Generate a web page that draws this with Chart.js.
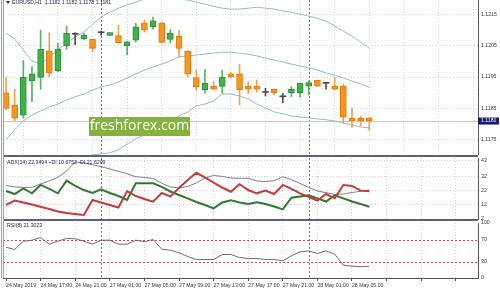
<!DOCTYPE html>
<html>
<head>
<meta charset="utf-8">
<script src="https://cdn.jsdelivr.net/npm/chart.js@4.4.1/dist/chart.umd.min.js"></script>
<style>
  html, body { margin: 0; padding: 0; background: #fff; }
  #wrap { position: relative; width: 500px; height: 292px; overflow: hidden; background: #fff; }
  canvas { position: absolute; left: 0; }
  .sep { position: absolute; left: 3px; width: 475px; height: 2px; background: #5d5f78; }
  .vl { position: absolute; top: 0; width: 1px; height: 278px; background: #a0a0ac; }
</style>
</head>
<body>
<div id="wrap">
  <canvas id="main" width="500" height="155" style="top:0px"></canvas>
  <canvas id="adx" width="500" height="66" style="top:157px"></canvas>
  <canvas id="rsi" width="500" height="72" style="top:220px"></canvas>
  <div class="sep" style="top:155px"></div>
  <div class="sep" style="top:219px"></div>
  <div class="vl" style="left:1px"></div>
  <div class="vl" style="left:3px"></div>
</div>
<script>
// EURUSD H1, 24 May 2019 13:00 .. 28 May 2019 06:00
const timeLabels = ['24 May 2019', '24 May 17:00', '24 May 21:00', '27 May 01:00', '27 May 05:00',
  '27 May 09:00', '27 May 13:00', '27 May 17:00', '27 May 21:00', '28 May 01:00', '28 May 05:00'];
const gridBars = [0, 4, 8, 12, 16, 20, 24, 28, 32, 36, 40, 44, 48, 52];
const separatorBars = [11, 35]; // day separators (27 May 00:00, 28 May 00:00)

const opens = [1.1190, 1.11861, 1.11829, 1.11938, 1.11949, 1.12033, 1.11970, 1.12049, 1.12086, 1.12071,
  1.12070, 1.12091, 1.12082, 1.12082, 1.12049, 1.12067, 1.12122, 1.12110, 1.12122, 1.12070,
  1.12080, 1.12032, 1.11948, 1.11910, 1.11921, 1.11920, 1.11960, 1.11960, 1.11921, 1.11921,
  1.11901, 1.11911, 1.11887, 1.11900, 1.11900, 1.11921, 1.11940, 1.11930, 1.11921, 1.11921,
  1.11819, 1.11819, 1.1182];
const highs = [1.1195, 1.11911, 1.12002, 1.11983, 1.12099, 1.12091, 1.12057, 1.12112, 1.12091, 1.12089,
  1.12071, 1.12096, 1.12092, 1.12115, 1.12064, 1.12121, 1.12131, 1.12141, 1.12123, 1.12101,
  1.12099, 1.12033, 1.11972, 1.11974, 1.11937, 1.11971, 1.11964, 1.11991, 1.11935, 1.11940,
  1.11914, 1.11912, 1.11898, 1.11919, 1.11931, 1.11938, 1.11940, 1.11930, 1.11949, 1.11928,
  1.11851, 1.11826, 1.1182];
const lows = [1.11845, 1.11811, 1.11819, 1.11872, 1.11911, 1.11951, 1.11967, 1.12038, 1.12052, 1.12069,
  1.12030, 1.12083, 1.12081, 1.12058, 1.12020, 1.12061, 1.12093, 1.12102, 1.12059, 1.12058,
  1.12014, 1.11950, 1.11909, 1.11899, 1.11910, 1.11898, 1.11947, 1.11861, 1.11898, 1.11902,
  1.11890, 1.11893, 1.11868, 1.11887, 1.11886, 1.11893, 1.11920, 1.11911, 1.11910, 1.11803,
  1.11790, 1.11794, 1.1178];
const closes = [1.1185, 1.11819, 1.11949, 1.11960, 1.12039, 1.11962, 1.12039, 1.12089, 1.12086, 1.12083,
  1.12041, 1.12091, 1.12091, 1.12059, 1.12062, 1.12110, 1.12099, 1.12129, 1.12060, 1.12090,
  1.12041, 1.11960, 1.11919, 1.11930, 1.11911, 1.11950, 1.11950, 1.11910, 1.11911, 1.11911,
  1.11901, 1.11900, 1.11887, 1.11911, 1.11930, 1.11932, 1.11921, 1.11930, 1.11911, 1.11822,
  1.11810, 1.11810, 1.1181];

const bbUpper = [1.12090, 1.12071, 1.12036, 1.12001, 1.11991, 1.12014, 1.12036, 1.12058, 1.12077, 1.12093,
  1.12118, 1.12141, 1.12156, 1.12169, 1.12179, 1.12188, 1.12198, 1.12204, 1.12207, 1.12204,
  1.12198, 1.12195, 1.12188, 1.12182, 1.12175, 1.12169, 1.12166, 1.12166, 1.12169, 1.12172,
  1.12169, 1.12166, 1.12160, 1.12156, 1.12150, 1.12144, 1.12137, 1.12128, 1.12112, 1.12096,
  1.12080, 1.12061, 1.12042];
const bbMiddle = [1.11750, 1.11782, 1.11810, 1.11829, 1.11842, 1.11855, 1.11864, 1.11877, 1.11887, 1.11896,
  1.11909, 1.11918, 1.11925, 1.11934, 1.11947, 1.11960, 1.11972, 1.11982, 1.11991, 1.12001,
  1.12014, 1.12017, 1.12020, 1.12023, 1.12026, 1.12029, 1.12029, 1.12026, 1.12023, 1.12017,
  1.12010, 1.12004, 1.11998, 1.11991, 1.11985, 1.11979, 1.11972, 1.11963, 1.11956, 1.11947,
  1.11937, 1.11928, 1.11918];
const bbLower = [1.11639, 1.11655, 1.11661, 1.11664, 1.11667, 1.11674, 1.11680, 1.11687, 1.11693, 1.11696,
  1.11702, 1.11706, 1.11709, 1.11718, 1.11737, 1.11753, 1.11766, 1.11779, 1.11794, 1.11810,
  1.11826, 1.11839, 1.11858, 1.11864, 1.11874, 1.11896, 1.11896, 1.11890, 1.11880, 1.11864,
  1.11852, 1.11839, 1.11833, 1.11826, 1.11823, 1.11820, 1.11817, 1.11814, 1.11810, 1.11804,
  1.11798, 1.11791, 1.11788];

const adxMain = [25.6, 24.6, 24.3, 24.3, 26.7, 28.8, 31.4, 35.8, 42.2, 41.5,
  40.3, 38.9, 37.3, 35.6, 33.9, 31.8, 31.3, 30.6, 27.2, 24.6,
  23.9, 24.9, 27.4, 30.9, 32.7, 32.0, 30.9, 30.7, 30.7, 28.8,
  28.4, 29.0, 31.8, 29.8, 27.0, 24.2, 21.7, 20.6, 19.3, 19.6,
  20.7, 21.5, 22.35];
const plusDI = [21.7, 19.6, 23.5, 20.1, 26.0, 23.2, 20.1, 29.0, 25.3, 22.4,
  20.3, 22.9, 20.3, 18.2, 15.4, 27.2, 27.2, 27.2, 24.6, 21.4,
  18.9, 16.5, 14.0, 11.9, 9.5, 13.6, 15.2, 13.6, 12.6, 13.8,
  12.6, 10.8, 8.8, 17.0, 17.9, 18.7, 16.5, 14.3, 18.7, 16.5,
  14.3, 12.6, 10.68];
const minusDI = [11.9, 15.0, 13.6, 12.2, 10.7, 9.1, 7.3, 6.2, 5.5, 4.8,
  15.4, 13.6, 11.9, 10.1, 21.7, 18.2, 16.1, 14.2, 20.3, 17.9,
  23.9, 29.5, 34.6, 31.3, 27.7, 24.2, 21.2, 26.5, 22.4, 20.1,
  22.0, 19.6, 26.0, 23.2, 20.1, 17.5, 14.9, 19.6, 16.6, 26.0,
  25.3, 22.0, 21.62];

const rsiValues = [56.0, 51.8, 66.9, 68.7, 73.6, 61.5, 66.9, 71.8, 71.5, 66.9,
  61.5, 68.7, 68.7, 61.5, 61.5, 68.7, 66.0, 70.0, 52.4, 50.5,
  46.0, 39.1, 33.6, 33.6, 33.6, 42.7, 42.7, 37.3, 35.5, 35.5,
  33.6, 33.6, 31.1, 40.5, 47.5, 49.3, 44.5, 49.3, 43.3, 23.3,
  21.5, 20.5, 21.3];
const rsiLevels = [70, 30];

const priceTicks = [1.1175, 1.1185, 1.1195, 1.1205, 1.1215];
const adxTicks = [2, 12, 22, 32, 43];
const rsiTicks = [0, 30, 70, 100];
const lastPrice = 1.1181;

const fontFam = "'Liberation Sans', Arial, sans-serif";
const smallPx = 5.2;
const tickFont = { family: fontFam, size: smallPx };
const gridColor = '#d2d2dc';
const xMin = -0.35, xMax = 54.57;

function pts(arr) { return arr.map((v, i) => ({ x: i, y: v })); }

function xScale(showLabels) {
  return {
    type: 'linear', min: xMin, max: xMax, offset: false,
    afterBuildTicks: s => { s.ticks = gridBars.map(v => ({ value: v })); },
    afterFit: s => {
      s.height = showLabels ? 14 : (showLabels === false ? 0 : 4);
      s.paddingLeft = 0; s.paddingRight = 0;
    },
    grid: { color: gridColor, drawTicks: !!showLabels, tickLength: 3, tickColor: '#555', tickBorderDash: [] },
    border: { display: !!showLabels, color: '#555', dash: [1, 2] },
    ticks: {
      display: !!showLabels, autoSkip: false, maxRotation: 0, align: 'start', padding: 1,
      color: '#333', font: tickFont,
      callback: v => timeLabels[gridBars.indexOf(v)] || ''
    }
  };
}

function yScale(min, max, ticks, fmt, gridOn) {
  return {
    position: 'right', min: min, max: max,
    afterBuildTicks: s => { s.ticks = ticks.map(v => ({ value: v })); },
    afterFit: s => { s.width = 22; s.paddingTop = 0; s.paddingBottom = 0; },
    grid: { display: gridOn, color: gridColor, drawTicks: false },
    border: { display: true, color: '#555', dash: [1, 2] },
    ticks: { padding: 3, color: '#333', font: tickFont, callback: fmt }
  };
}

function drawSeparators(chart) {
  const { ctx, chartArea: a, scales: { x } } = chart;
  ctx.save();
  ctx.strokeStyle = '#6c6c7a';
  ctx.lineWidth = 1;
  ctx.setLineDash([2, 2]);
  separatorBars.forEach(b => {
    const px = Math.round(x.getPixelForValue(b)) + 0.5;
    ctx.beginPath();
    ctx.moveTo(px, a.top);
    ctx.lineTo(px, a.bottom);
    ctx.stroke();
  });
  ctx.restore();
}

function label(ctx, text, x, y) {
  ctx.save();
  ctx.font = smallPx + 'px ' + fontFam;
  ctx.fillStyle = '#1f1f3f';
  ctx.textBaseline = 'middle';
  ctx.fillText(text, x, y);
  ctx.restore();
}

const common = {
  responsive: false,
  animation: false,
  devicePixelRatio: 1,
  events: [],
  plugins: { legend: { display: false }, tooltip: { enabled: false } }
};

// candle colours
function kind(i) { return closes[i] > opens[i] ? 'up' : (closes[i] < opens[i] ? 'down' : 'doji'); }
const bodyFill = { up: '#3cb44a', down: '#f8961f', doji: '#4a4a52' };
const bodyEdge = { up: '#2b8f38', down: '#dc7a0c', doji: '#4a4a52' };
const wickCol = { up: '#5fae68', down: '#eba257', doji: '#4a4a52' };

// ---- main price panel ----
new Chart(document.getElementById('main'), {
  type: 'bar',
  data: {
    datasets: [
      {
        type: 'bar', order: 0, grouped: false, barThickness: 6, minBarLength: 1,
        data: opens.map((o, i) => ({ x: i, y: [o, closes[i]] })),
        backgroundColor: c => bodyFill[kind(c.dataIndex)],
        borderColor: c => bodyEdge[kind(c.dataIndex)],
        borderWidth: c => kind(c.dataIndex) === 'doji' ? 0 : 1,
        borderSkipped: false
      },
      {
        type: 'bar', order: 1, grouped: false, barThickness: 1,
        data: lows.map((l, i) => ({ x: i, y: [l, highs[i]] })),
        backgroundColor: c => wickCol[kind(c.dataIndex)]
      },
      { type: 'line', order: 2, data: pts(bbUpper), borderColor: '#93c0b0', borderWidth: 1, pointRadius: 0, tension: 0 },
      { type: 'line', order: 2, data: pts(bbMiddle), borderColor: '#93c0b0', borderWidth: 1, pointRadius: 0, tension: 0 },
      { type: 'line', order: 2, data: pts(bbLower), borderColor: '#93c0b0', borderWidth: 1, pointRadius: 0, tension: 0 }
    ]
  },
  options: Object.assign({}, common, {
    layout: { padding: { left: 3, right: 0, top: 0, bottom: 0 } },
    scales: {
      x: xScale(false),
      y: yScale(1.11702, 1.12195, priceTicks, v => v.toFixed(4), true)
    }
  }),
  plugins: [{
    id: 'mainOverlay',
    beforeDatasetsDraw(chart) {
      const { ctx, chartArea: a, scales: { y } } = chart;
      drawSeparators(chart);
      const py = Math.round(y.getPixelForValue(lastPrice)) + 0.5;
      ctx.save();
      ctx.strokeStyle = '#c8c8d0';
      ctx.lineWidth = 1;
      ctx.beginPath();
      ctx.moveTo(a.left, py);
      ctx.lineTo(a.right, py);
      ctx.stroke();
      ctx.restore();
    },
    afterDatasetsDraw(chart) {
      const ctx = chart.ctx;
      ctx.save();
      ctx.fillStyle = '#86b23e';
      ctx.fillRect(89, 117, 101, 19);
      ctx.fillStyle = '#ffffff';
      ctx.font = '14px "Open Sans", sans-serif';
      ctx.textAlign = 'center';
      ctx.textBaseline = 'middle';
      ctx.fillText('freshforex.com', 139.5, 126.5);
      ctx.restore();
    },
    afterDraw(chart) {
      const { ctx, scales: { y } } = chart;
      // header
      ctx.save();
      ctx.fillStyle = '#1f1f3f';
      ctx.beginPath();
      ctx.moveTo(6, 1); ctx.lineTo(10, 1); ctx.lineTo(8, 4); ctx.closePath();
      ctx.fill();
      ctx.restore();
      label(ctx, 'EURUSD,H1  1.1182 1.1182 1.1178 1.1181', 12, 3);
      // last price box
      const py = y.getPixelForValue(lastPrice);
      ctx.save();
      ctx.fillStyle = '#1b1b6b';
      ctx.fillRect(478, py - 3.5, 21, 7);
      ctx.fillStyle = '#ffffff';
      ctx.font = smallPx + 'px ' + fontFam;
      ctx.textBaseline = 'middle';
      ctx.fillText(lastPrice.toFixed(4), 481, py);
      ctx.restore();
    }
  }]
});

// ---- ADX panel ----
new Chart(document.getElementById('adx'), {
  type: 'line',
  data: {
    datasets: [
      { order: 3, data: pts(adxMain), borderColor: '#7c7c8e', borderWidth: 1, pointRadius: 0, tension: 0 },
      { order: 2, data: pts(plusDI), borderColor: '#2f7a2f', borderWidth: 2, pointRadius: 0, tension: 0 },
      { order: 1, data: pts(minusDI), borderColor: '#c83a3a', borderWidth: 2, pointRadius: 0, tension: 0 }
    ]
  },
  options: Object.assign({}, common, {
    layout: { padding: { left: 3, right: 0, top: 1, bottom: 0 } },
    scales: {
      x: xScale(null),
      y: yScale(2, 45, adxTicks, v => String(v), true)
    }
  }),
  plugins: [{
    id: 'adxOverlay',
    beforeDatasetsDraw(chart) { drawSeparators(chart); },
    afterDraw(chart) { label(chart.ctx, 'ADX(14) 22.3494 +DI:10.6752 -DI:21.6209', 7, 5.5); }
  }]
});

// ---- RSI panel ----
new Chart(document.getElementById('rsi'), {
  type: 'line',
  data: {
    datasets: [
      { data: pts(rsiValues), borderColor: '#6a6a72', borderWidth: 1, pointRadius: 0, tension: 0 }
    ]
  },
  options: Object.assign({}, common, {
    layout: { padding: { left: 3, right: 0, top: 3, bottom: 0 } },
    scales: {
      x: xScale(true),
      y: yScale(0, 100, rsiTicks, v => String(v), false)
    }
  }),
  plugins: [{
    id: 'rsiOverlay',
    beforeDatasetsDraw(chart) {
      const { ctx, chartArea: a, scales: { y } } = chart;
      drawSeparators(chart);
      ctx.save();
      ctx.strokeStyle = '#b85050';
      ctx.lineWidth = 1;
      ctx.setLineDash([2, 2]);
      rsiLevels.forEach(l => {
        const py = Math.round(y.getPixelForValue(l)) + 0.5;
        ctx.beginPath();
        ctx.moveTo(a.left, py);
        ctx.lineTo(a.right, py);
        ctx.stroke();
      });
      ctx.restore();
    },
    afterDraw(chart) { label(chart.ctx, 'RSI(8) 21.3023', 7, 6); }
  }]
});
</script>
</body>
</html>
